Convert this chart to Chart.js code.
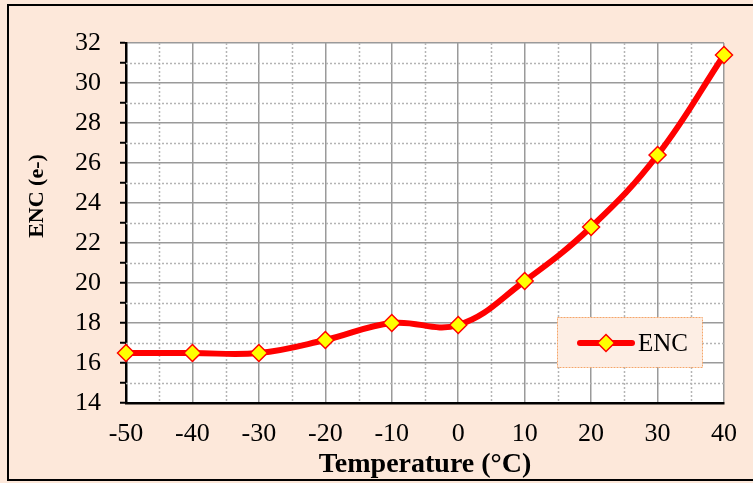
<!DOCTYPE html>
<html>
<head>
<meta charset="utf-8">
<script src="https://cdn.jsdelivr.net/npm/chart.js@4.4.0/dist/chart.umd.min.js"></script>
<style>
  html, body { margin: 0; padding: 0; background: #fde8da; }
  #wrap { width: 753px; height: 483px; }
</style>
</head>
<body>
<div id="wrap"><canvas id="grafico" width="753" height="483"></canvas></div>
<script>
// DADOS DO GRÁFICO
const temperaturas = [-50, -40, -30, -20, -10, 0, 10, 20, 30, 40];
const ruidoENC = [16.5, 16.5, 16.5, 17.15, 18.0, 17.9, 20.1, 22.8, 26.4, 31.4];
const nomeSerie = 'ENC';
const tituloX = 'Temperature (°C)';
const tituloY = 'ENC (e-)';

const FONTE = "'Liberation Serif', 'Times New Roman', serif";

// FUNDO, BORDA E GRADE SECUNDÁRIA (PONTILHADA)
const fundoPlugin = {
    id: 'fundo',
    beforeDraw(chart) {
        const c = chart.ctx;
        const a = chart.chartArea;
        c.save();
        c.fillStyle = '#fde8da';
        c.fillRect(0, 0, chart.width, chart.height);
        c.strokeStyle = '#000';
        c.lineWidth = 2;
        c.strokeRect(8, 5, chart.width + 10, chart.height - 8);
        c.fillStyle = '#ffffff';
        c.fillRect(a.left, a.top, a.right - a.left, a.bottom - a.top);
        c.restore();
    },
    beforeDatasetsDraw(chart) {
        const c = chart.ctx;
        const a = chart.chartArea;
        const sx = chart.scales.x, sy = chart.scales.y;
        c.save();
        c.strokeStyle = '#b4b4b4';
        c.lineWidth = 1.5;
        c.setLineDash([2, 2]);
        for (let v = -45; v < 40; v += 10) {
            const px = Math.round(sx.getPixelForValue(v)) + 0.5;
            c.beginPath(); c.moveTo(px, a.top); c.lineTo(px, a.bottom); c.stroke();
        }
        for (let v = 15; v < 32; v += 2) {
            const py = Math.round(sy.getPixelForValue(v)) + 0.5;
            c.beginPath(); c.moveTo(a.left, py); c.lineTo(a.right, py); c.stroke();
        }
        c.restore();
    }
};

// LEGENDA DENTRO DA ÁREA DO GRÁFICO E TÍTULO DO EIXO Y
const legendaPlugin = {
    id: 'legendaInterna',
    afterDraw(chart) {
        const c = chart.ctx;
        const ds = chart.data.datasets[0];
        const x0 = 557, y0 = 317, w = 145, h = 50;
        c.save();
        c.fillStyle = '#fdeee4';
        c.fillRect(x0, y0, w, h);
        c.strokeStyle = '#f5a66a';
        c.lineWidth = 1;
        c.setLineDash([2, 1]);
        c.strokeRect(x0 + 0.5, y0 + 0.5, w, h);
        c.setLineDash([]);
        const cy = y0 + 26;
        c.strokeStyle = ds.borderColor;
        c.lineWidth = ds.borderWidth;
        c.lineCap = 'round';
        c.beginPath(); c.moveTo(580, cy); c.lineTo(632, cy); c.stroke();
        const r = ds.pointRadius;
        c.beginPath();
        c.moveTo(606, cy - r); c.lineTo(606 + r, cy); c.lineTo(606, cy + r); c.lineTo(606 - r, cy); c.closePath();
        c.fillStyle = ds.pointBackgroundColor;
        c.fill();
        c.lineWidth = ds.pointBorderWidth;
        c.strokeStyle = ds.pointBorderColor;
        c.stroke();
        c.fillStyle = '#000';
        c.font = "25px " + FONTE;
        c.textBaseline = 'middle';
        c.fillText(ds.label, 638, cy + 1);

        // TÍTULO DO EIXO Y (GIRADO)
        c.translate(37, 196);
        c.rotate(-Math.PI / 2);
        c.font = "bold 22px " + FONTE;
        c.textAlign = 'center';
        c.fillText(tituloY, 0, 0);
        c.restore();
    }
};

const ctx = document.getElementById('grafico');

const grafico = new Chart(ctx, {
    type: 'line',
    data: {
        datasets: [{
            label: nomeSerie,
            data: temperaturas.map((t, i) => ({ x: t, y: ruidoENC[i] })),
            borderColor: '#ff0000',
            borderWidth: 6,
            tension: 0.4,
            pointStyle: 'rectRot',
            pointRadius: 8.5,
            pointBackgroundColor: '#ffff00',
            pointBorderColor: '#ff0000',
            pointBorderWidth: 1.5,
            clip: false
        }]
    },
    options: {
        responsive: false,
        animation: false,
        layout: { padding: { top: 43, right: 27, left: 0, bottom: 0 } },
        plugins: {
            legend: { display: false },
            tooltip: { enabled: false }
        },
        scales: {
            x: {
                type: 'linear',
                min: -50, max: 40,
                afterFit: (s) => { s.height = 80; },
                ticks: {
                    stepSize: 5,
                    autoSkip: false,
                    maxRotation: 0,
                    padding: 16,
                    color: '#000',
                    font: { family: FONTE, size: 26 },
                    callback: (v) => (v % 10 === 0 ? v : '')
                },
                grid: {
                    drawTicks: false,
                    color: (c) => (c.tick && c.tick.value % 10 === 0 ? '#9a9a9a' : 'rgba(0,0,0,0)'),
                    lineWidth: 1.5
                },
                border: { display: true, color: '#000', width: 2.5 },
                title: {
                    display: true,
                    text: tituloX,
                    color: '#000',
                    font: { family: FONTE, size: 28, weight: 'bold' },
                    padding: { top: 0, bottom: 1 }
                }
            },
            y: {
                type: 'linear',
                min: 14, max: 32,
                afterFit: (s) => { s.width = 126; },
                ticks: {
                    stepSize: 1,
                    autoSkip: false,
                    padding: 19,
                    color: '#000',
                    font: { family: FONTE, size: 26 },
                    callback: (v) => (v % 2 === 0 ? v : '')
                },
                grid: {
                    tickLength: 6,
                    tickColor: '#000',
                    tickWidth: 2,
                    color: (c) => (c.tick && c.tick.value % 2 === 0 ? '#9a9a9a' : 'rgba(0,0,0,0)'),
                    lineWidth: 1.5
                },
                border: { display: true, color: '#000', width: 2.5 },
                title: { display: false }
            }
        }
    },
    plugins: [fundoPlugin, legendaPlugin]
});
</script>
</body>
</html>
